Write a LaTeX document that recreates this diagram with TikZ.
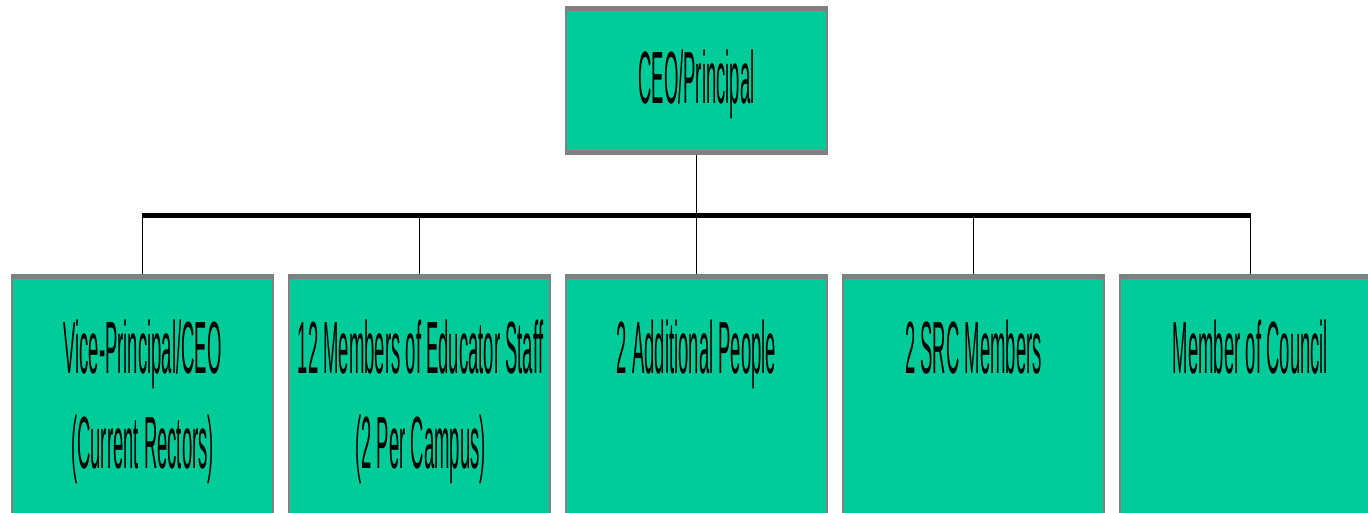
\documentclass[tikz,border=0pt]{standalone}
\usepackage{fontspec}
\setmainfont{Liberation Sans}
\usepackage{graphicx}
\definecolor{boxgreen}{HTML}{00CC99}
\definecolor{bordergray}{HTML}{808080}
\newcommand{\orglabel}[1]{\scalebox{0.25}[1]{\setlength{\tabcolsep}{0pt}\begin{tabular}[t]{c}#1\end{tabular}}}
\tikzset{
  orgbox/.style={rectangle, fill=boxgreen, draw=bordergray, line width=1.2pt, minimum width=261pt, inner sep=0pt},
  orgtext/.style={anchor=base, inner sep=0pt, font=\fontsize{74}{95}\selectfont},
  linkline/.style={draw=black, line width=1.4pt},
}
\begin{document}
\begin{tikzpicture}[x=1pt,y=-1pt]
\useasboundingbox (0,0) rectangle (1368,512);
\fill[white] (0,0) rectangle (1368,512);
\clip (0,0) rectangle (1368,512);
% top box
\node[orgbox, minimum height=147pt] (ceo) at (696.5,80.5) {};
\fill[bordergray] ([xshift=-0.6pt]ceo.north west) rectangle ([xshift=0.6pt,yshift=-5pt]ceo.north east);
\fill[bordergray] ([xshift=-0.6pt]ceo.south west) rectangle ([xshift=0.6pt,yshift=5pt]ceo.south east);
\node[orgtext] (ceot) at (696.5,103) {\orglabel{CEO/Principal}};
% bottom boxes
\foreach \n/\cx in {b1/142.5, b2/419.5, b3/696.5, b4/973.5, b5/1250.5}{
  \node[orgbox, minimum height=325pt] (\n) at (\cx,437.5) {};
  \fill[bordergray] ([xshift=-0.6pt]\n.north west) rectangle ([xshift=0.6pt,yshift=-5pt]\n.north east);
}
\node[orgtext] (t1) at (142.5,373) {\orglabel{Vice-Principal/CEO\\(Current Rectors)}};
\node[orgtext] (t2) at (420.5,373) {\orglabel{12 Members of Educator Staff\\(2 Per Campus)}};
\node[orgtext] (t3) at (696.5,373) {\orglabel{2 Additional People}};
\node[orgtext] (t4) at (973.5,373) {\orglabel{2 SRC Members}};
\node[orgtext] (t5) at (1250.5,373) {\orglabel{Member of Council}};
% connectors
\coordinate (barL) at (142,215);
\coordinate (barR) at (1251,215);
\draw[line width=5pt] (barL) -- (barR);
\draw[linkline] (ceo.south) -- (ceo.south |- barL);
\foreach \n in {b1,b2,b3,b4,b5}{
  \draw[linkline] (\n.north) -- (\n.north |- barL);
}
\end{tikzpicture}
\end{document}
